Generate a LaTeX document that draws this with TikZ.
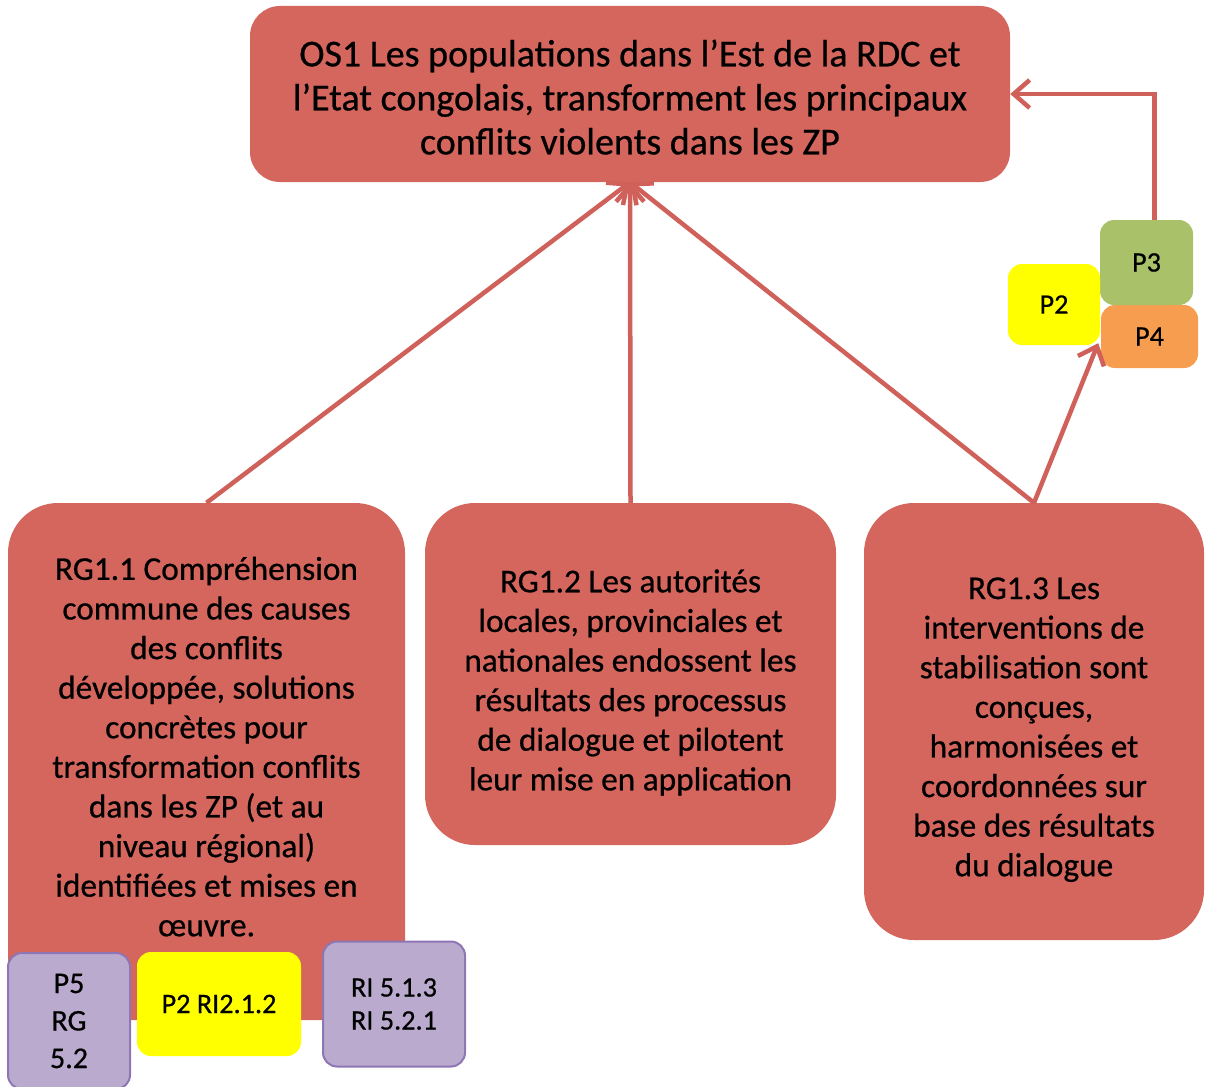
\documentclass[tikz,border=0pt]{standalone}
\usepackage{fontspec}
\setmainfont{Carlito}[FakeBold=0.6]
\usetikzlibrary{arrows.meta}
\definecolor{boxred}{RGB}{212,102,94}
\definecolor{linered}{RGB}{208,96,90}
\definecolor{pgreen}{RGB}{169,194,106}
\definecolor{porange}{RGB}{247,157,80}
\definecolor{pyellow}{RGB}{255,255,0}
\definecolor{plilac}{RGB}{186,170,206}
\definecolor{plilacdark}{RGB}{142,118,180}

\begin{document}
\begin{tikzpicture}[x=1pt,y=-1pt,
  bigbox/.style={fill=boxred,rounded corners=50pt,align=center,inner sep=0pt,
    font=\fontsize{33.3}{39.6}\selectfont},
  tag/.style={rounded corners=14pt,align=center,inner sep=0pt,
    font=\fontsize{28.2}{34}\selectfont},
  arr/.style={draw=linered,line width=4.5pt,
    -{Straight Barb[length=16pt,width=28pt]}}]
\useasboundingbox (0,0) rectangle (1206,1086);

% objectif specifique
\node[bigbox,rounded corners=30pt,minimum width=760pt,minimum height=176pt,
  font=\fontsize{38}{44}\selectfont] (os) at (630,94)
  {\rule{0pt}{33pt}OS1 Les populations dans l’Est de la RDC et\\
   l’Etat congolais, transforment les principaux\\
   conflits violents dans les ZP};

% resultats
\node[bigbox,minimum width=397pt,minimum height=517pt] (rg11) at (206.5,761.5)
  {RG1.1 Compréhension\\ commune des causes\\ des conflits\\
   développée, solutions\\ concrètes pour\\ transformation conflits\\
   dans les ZP (et au\\ niveau régional)\\ identifiées et mises en\\
   œuvre.\rule[-30pt]{0pt}{1pt}};
\node[bigbox,minimum width=411pt,minimum height=342pt] (rg12) at (630.5,674)
  {\rule{0pt}{40pt}RG1.2 Les autorités\\ locales, provinciales et\\ nationales endossent les\\
   résultats des processus\\ de dialogue et pilotent\\ leur mise en application};
\node[bigbox,minimum width=340pt,minimum height=437pt] (rg13) at (1034,721.5)
  {\rule{0pt}{38pt}RG1.3 Les\\ interventions de\\ stabilisation sont\\ conçues,\\
   harmonisées et\\ coordonnées sur\\ base des résultats\\ du dialogue};

% fleches
\draw[arr] (rg11.north) -- (os.south);
\draw[arr] (rg12.north) -- (os.south);
\draw[arr] (rg13.north) -- (os.south);

% programmes
\node[tag,fill=porange,minimum width=97pt,minimum height=63pt] (p4) at (1149.5,336.5) {P4};
\node[tag,fill=pgreen,minimum width=93pt,minimum height=85pt] (p3) at (1146.5,262.5) {P3};
\node[tag,fill=pyellow,minimum width=92pt,minimum height=81pt] (p2a) at (1054,304.5) {P2};
\draw[arr] (rg13.north) -- ([shift={(-2pt,2pt)}]p2a.south east);
\draw[arr] ([xshift=8pt]p3.north) |- (os.east);

\node[tag,fill=plilac,draw=plilacdark,line width=2pt,minimum width=122pt,
  minimum height=136pt,font=\fontsize{30}{37.5}\selectfont] (p5) at (69,1021) {P5\\ RG\\ 5.2};
\node[tag,fill=pyellow,minimum width=164pt,minimum height=104pt] (p2b) at (219,1004) {P2 RI2.1.2};
\node[tag,fill=plilac,draw=plilacdark,line width=2pt,minimum width=142pt,
  minimum height=125pt,font=\fontsize{28.2}{33}\selectfont] (ri5) at (394,1004) {RI 5.1.3\\ RI 5.2.1};
\end{tikzpicture}
\end{document}
